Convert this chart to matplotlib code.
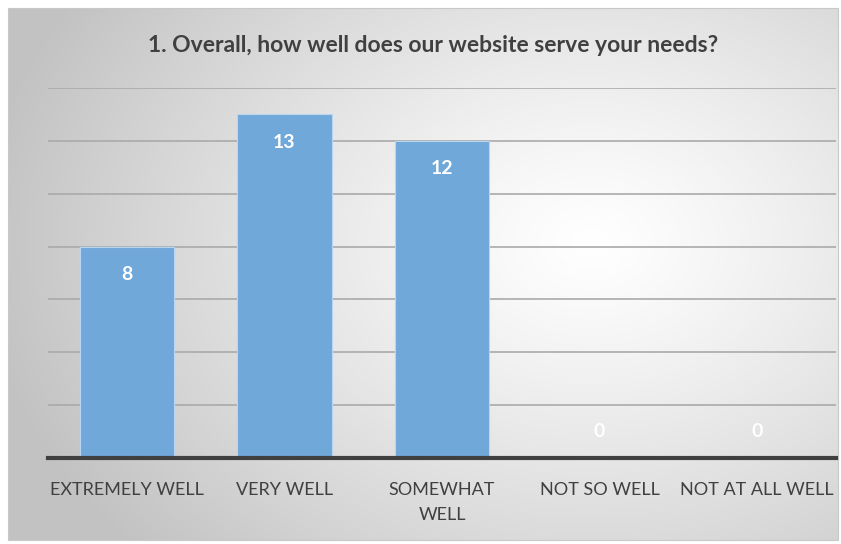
import matplotlib
matplotlib.use('Agg')
import matplotlib.pyplot as plt
import numpy as np

categories = ['EXTREMELY WELL', 'VERY WELL', 'SOMEWHAT\nWELL', 'NOT SO WELL', 'NOT AT ALL WELL']
counts = [8, 13, 12, 0, 0]
title = '1. Overall, how well does our website serve your needs?'

plt.rcParams['font.family'] = ['Lato', 'DejaVu Sans']

W, H = 841, 544
fig = plt.figure(figsize=(W / 100, H / 100), dpi=100)

# radial gradient background for the chart area
bg = fig.add_axes([0, 0, 1, 1], zorder=-10)
bg.set_xlim(0, W); bg.set_ylim(H, 0); bg.axis('off')
yy, xx = np.mgrid[0:H, 0:W]
r = np.hypot((xx - 590) / 560.0, (yy - 240) / 420.0)
val = 1.0 - 0.21 * np.clip(r, 0, 1.1) ** 1.2
img = np.dstack([val, val, val])
bg.imshow(img, extent=(8, 838, 540, 8), aspect='auto', interpolation='bilinear')
bg.add_patch(plt.Rectangle((8, 8), 830, 532, fill=False, edgecolor='#c8c8c8', lw=0.8))

ax = fig.add_axes([48 / W, 1 - 458 / H, (836 - 48) / W, (458 - 88) / H])
ax.patch.set_alpha(0)
x = np.arange(len(categories))
bars = ax.bar(x, counts, width=0.6, color='#70a8da', edgecolor='#b9d6f0', linewidth=0.8, zorder=3)

ax.set_xlim(-0.5, len(categories) - 0.5)
ax.set_ylim(0, 14)
ax.set_yticks(np.arange(0, 15, 2))
ax.yaxis.grid(True, color='#aaaaaa', linewidth=1.2, zorder=0)
ax.tick_params(axis='y', left=False, labelleft=False)
ax.tick_params(axis='x', length=0, pad=17)
ax.set_xticks(x)
ax.set_xticklabels(categories, fontsize=13, color='#404040', linespacing=1.7)
for s in ['top', 'right', 'left']:
    ax.spines[s].set_visible(False)
ax.spines['bottom'].set_color('#404040')
ax.spines['bottom'].set_linewidth(3)
ax.spines['bottom'].set_zorder(4)

for xi, v in zip(x, counts):
    off = -20 if v > 0 else 19
    ax.annotate(str(v), (xi, v), xytext=(0, off), textcoords='offset points',
                ha='center', va='center', color='white', fontsize=14, fontweight='bold', zorder=5)

fig.text(433 / W, 1 - 45 / H, title, ha='center', va='center', fontsize=16.5,
         fontweight='bold', color='#404040')

fig.savefig('out.png', dpi=100, facecolor='white')
